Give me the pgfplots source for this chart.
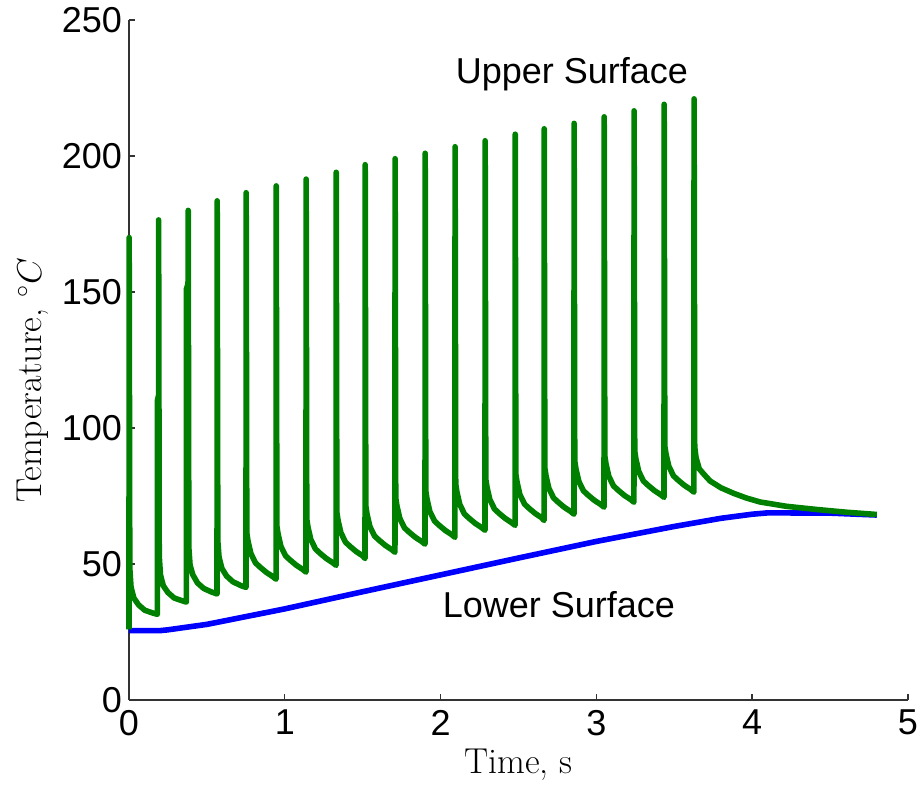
\documentclass[border=0pt]{standalone}
\usepackage{fontspec}
\newfontfamily\arial{Liberation Sans}
\usepackage{pgfplots}
\pgfplotsset{compat=1.18}
\definecolor{mgreen}{RGB}{0,128,0}
\definecolor{mblue}{RGB}{0,0,255}
\begin{document}
\begin{tikzpicture}
\begin{axis}[
  scale only axis, width=389.5pt, height=340pt,
  xmin=0, xmax=5, ymin=0, ymax=250,
  axis x line*=bottom, axis y line*=left,
  axis line style={black!80, line width=0.7pt},
  tick style={black!80, line width=0.7pt},
  tick align=inside, major tick length=3pt,
  xtick={0,1,2,3,4,5}, ytick={0,50,100,150,200,250},
  tick label style={font=\arial\fontsize{18}{21}\selectfont},
  xticklabel style={yshift=-1.5pt},
  /pgf/number format/assume math mode=true,
  xlabel={Time, s},
  ylabel={Temperature, $^\circ C$},
  label style={font=\fontsize{18}{22}\selectfont},
  ylabel style={at={(ticklabel cs:0.47)}},
  clip=false,
]
% Lower surface
\addplot[mblue, line width=2.8pt, line join=round] coordinates {
(0,25.5)(0.2,25.5)(0.25,25.8)(0.5,27.8)(1.0,33.5)(1.5,39.8)(2.0,46)(2.5,52.2)
(3.0,58.3)(3.5,63.8)(3.8,66.8)(4.0,68.3)(4.1,68.8)(4.5,68.7)(4.8,68)
};
% Upper surface
\addplot[mgreen, line width=2.8pt, line join=round] coordinates {
(0,26)(0.001,170)(0.005,48.5)(0.013,41.5)(0.031,37.5)(0.061,35)(0.101,33)(0.151,32)(0.182,31.5)
(0.182,110)(0.19,112)(0.19,176.5)(0.194,53)(0.202,46)(0.22,42)(0.25,39.5)(0.29,37.5)(0.34,36.5)(0.368,36)
(0.368,151)(0.379,153)(0.380,180)(0.384,56)(0.392,49.5)(0.41,46)(0.44,43)(0.48,41)(0.53,39.7)(0.565,39)
(0.566,183.5)(0.570,58.4)(0.578,52.5)(0.596,48.4)(0.626,45.6)(0.666,43.5)(0.716,42.1)(0.751,41.4)
(0.752,186.5)(0.756,61.4)(0.764,58.4)(0.782,53.9)(0.812,50.4)(0.842,48.8)(0.882,46.9)(0.922,45.4)(0.944,44.4)
(0.945,189)(0.949,64)(0.957,61)(0.975,56.5)(1.005,53)(1.035,51.4)(1.075,49.5)(1.115,48)(1.136,47)
(1.137,191.5)(1.141,66.5)(1.149,63.5)(1.167,59)(1.197,55.5)(1.227,53.9)(1.267,52)(1.307,50.5)(1.329,49.5)
(1.330,194)(1.334,69)(1.342,66)(1.36,61.5)(1.39,58)(1.42,56.4)(1.46,54.5)(1.5,53)(1.515,52)
(1.516,196.8)(1.52,71.3)(1.528,68.3)(1.546,63.8)(1.576,60.3)(1.606,58.7)(1.646,56.8)(1.686,55.3)(1.707,54.3)
(1.708,199)(1.712,74.3)(1.72,71.3)(1.738,66.8)(1.768,63.3)(1.798,61.7)(1.838,59.8)(1.878,58.3)(1.9,57.3)
(1.901,201)(1.905,76.8)(1.913,73.8)(1.931,69.3)(1.961,65.8)(1.991,64.2)(2.031,62.3)(2.071,60.8)(2.092,59.8)
(2.093,203.4)(2.097,79.4)(2.105,76.4)(2.123,71.9)(2.153,68.4)(2.183,66.8)(2.223,64.9)(2.263,63.4)(2.285,62.4)
(2.286,205.6)(2.29,81.2)(2.298,78.2)(2.316,73.7)(2.346,70.2)(2.376,68.6)(2.416,66.7)(2.456,65.2)(2.478,64.2)
(2.479,208)(2.483,83)(2.491,80)(2.509,75.5)(2.539,72)(2.569,70.4)(2.609,68.5)(2.649,67)(2.664,66)
(2.665,210)(2.669,85.3)(2.677,82.3)(2.695,77.8)(2.725,74.3)(2.755,72.7)(2.795,70.8)(2.835,69.3)(2.856,68.3)
(2.857,212)(2.861,87.9)(2.869,84.9)(2.887,80.4)(2.917,76.9)(2.947,75.3)(2.987,73.4)(3.027,71.9)(3.049,70.9)
(3.050,214.4)(3.054,89.7)(3.062,86.7)(3.08,82.2)(3.11,78.7)(3.14,77.1)(3.18,75.2)(3.22,73.7)(3.241,72.7)
(3.242,216.6)(3.246,91.5)(3.254,88.5)(3.272,84)(3.302,80.5)(3.332,78.9)(3.372,77)(3.412,75.5)(3.434,74.5)
(3.435,219)(3.439,93.4)(3.447,90.4)(3.465,85.9)(3.495,82.4)(3.525,80.8)(3.565,78.9)(3.605,77.4)(3.626,76.4)
(3.627,221)(3.631,93)(3.64,89)(3.66,85)(3.69,83)(3.73,80.5)(3.8,78)(3.88,76)(3.96,74.3)(4.05,72.8)
(4.22,71.2)(4.42,70)(4.61,69)(4.80,68.2)
};
\node[font=\arial\fontsize{18}{21}\selectfont, anchor=base] at (axis cs:2.843,226.7) {Upper Surface};
\node[font=\arial\fontsize{18}{21}\selectfont, anchor=base] at (axis cs:2.760,30.5) {Lower Surface};
\coordinate (BL) at (axis cs:-0.828,-33.09);
\coordinate (TR) at (axis cs:5.090,257.35);
\end{axis}
\pgfresetboundingbox
\path (BL) rectangle (TR);
\end{tikzpicture}
\end{document}
